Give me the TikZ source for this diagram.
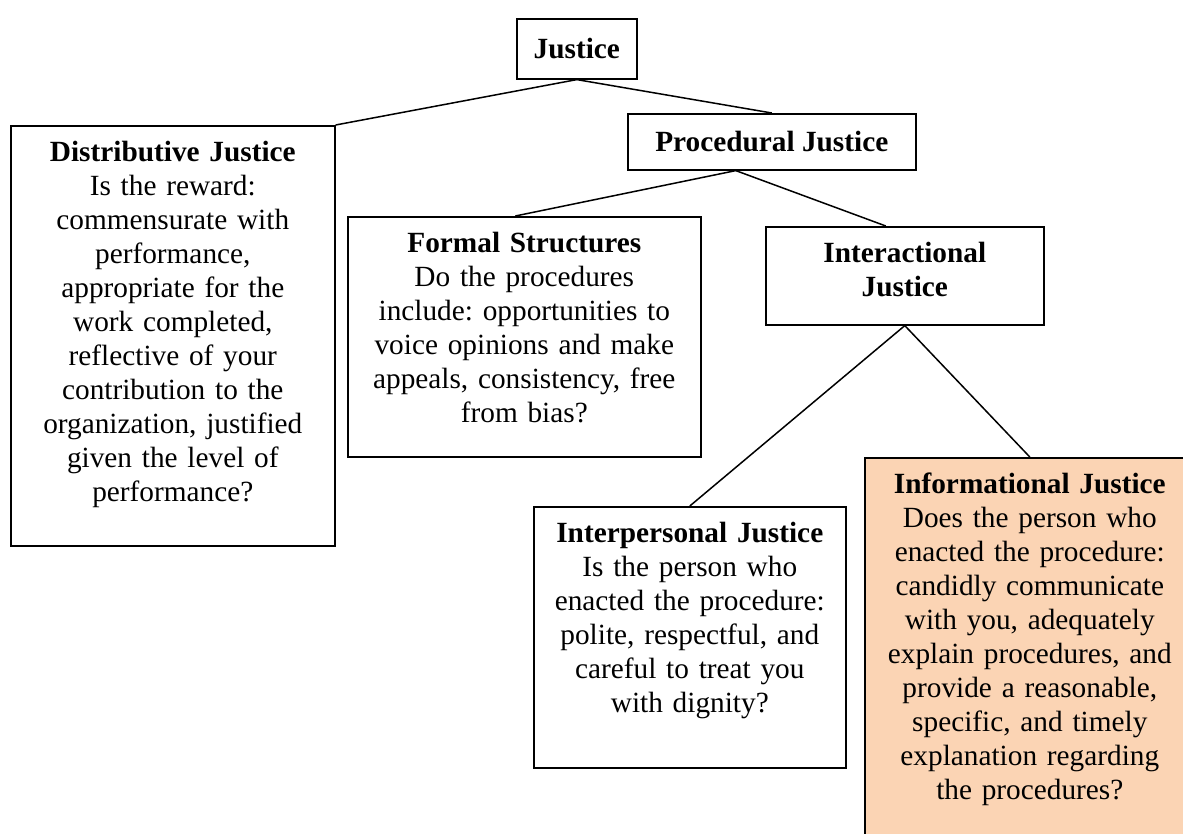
\documentclass[tikz,border=0pt]{standalone}
\usepackage{fontspec}
\setmainfont{Liberation Serif}
\usepackage{tikz}
\usetikzlibrary{positioning}

\definecolor{peach}{HTML}{FBD4B4}
\newcommand{\jfont}{\fontsize{29.3}{34}\selectfont\frenchspacing}

\tikzset{
  jbox/.style={draw, line width=1.6pt, inner sep=0pt, anchor=north west, align=center, font=\jfont},
  headbox/.style={jbox},
  textbox/.style={jbox, text height=36pt},
  link/.style={line width=1.5pt}
}

\begin{document}
\begin{tikzpicture}[x=1pt,y=-1pt]
  \useasboundingbox (0,0) rectangle (1183,833);

  % boxes
  \node[headbox, minimum width=120, minimum height=60] (just) at (516,18) {\textbf{Justice}};
  \node[textbox, text width=324pt, text depth=384pt] (dist) at (10,125)
    {\textbf{Distributive Justice}\\ Is the reward:\\ commensurate with\\ performance,\\ appropriate for the\\ work completed,\\ reflective of your\\ contribution to the\\ organization, justified\\ given the level of\\ performance?};
  \node[headbox, minimum width=288, minimum height=56] (proc) at (627,113) {\textbf{Procedural Justice}};
  \node[textbox, text width=353pt, text depth=204pt] (formal) at (347,216)
    {\textbf{Formal Structures}\\ Do the procedures\\ include: opportunities to\\ voice opinions and make\\ appeals, consistency, free\\ from bias?};
  \node[textbox, text width=278pt, text depth=62pt] (inter) at (765,226)
    {\textbf{Interactional}\\ \textbf{Justice}};
  \node[textbox, text width=312pt, text depth=225pt] (pers) at (533,506)
    {\textbf{Interpersonal Justice}\\ Is the person who\\ enacted the procedure:\\ polite, respectful, and\\ careful to treat you\\ with dignity?};
  \node[textbox, fill=peach, text width=330pt, text depth=360pt] (info) at (864,457)
    {\textbf{Informational Justice}\\ Does the person who\\ enacted the procedure:\\ candidly communicate\\ with you, adequately\\ explain procedures, and\\ provide a reasonable,\\ specific, and timely\\ explanation regarding\\ the procedures?};

  % connectors
  \draw[link] (just.south) -- (dist.north east);
  \draw[link] (just.south) -- (proc.north);
  \draw[link] ([xshift=-36pt]proc.south) -- ([xshift=-9pt]formal.north);
  \draw[link] ([xshift=-36pt]proc.south) -- ([xshift=-19pt]inter.north);
  \draw[link] (inter.south) -- (pers.north);
  \draw[link] (inter.south) -- (info.north);
\end{tikzpicture}
\end{document}
